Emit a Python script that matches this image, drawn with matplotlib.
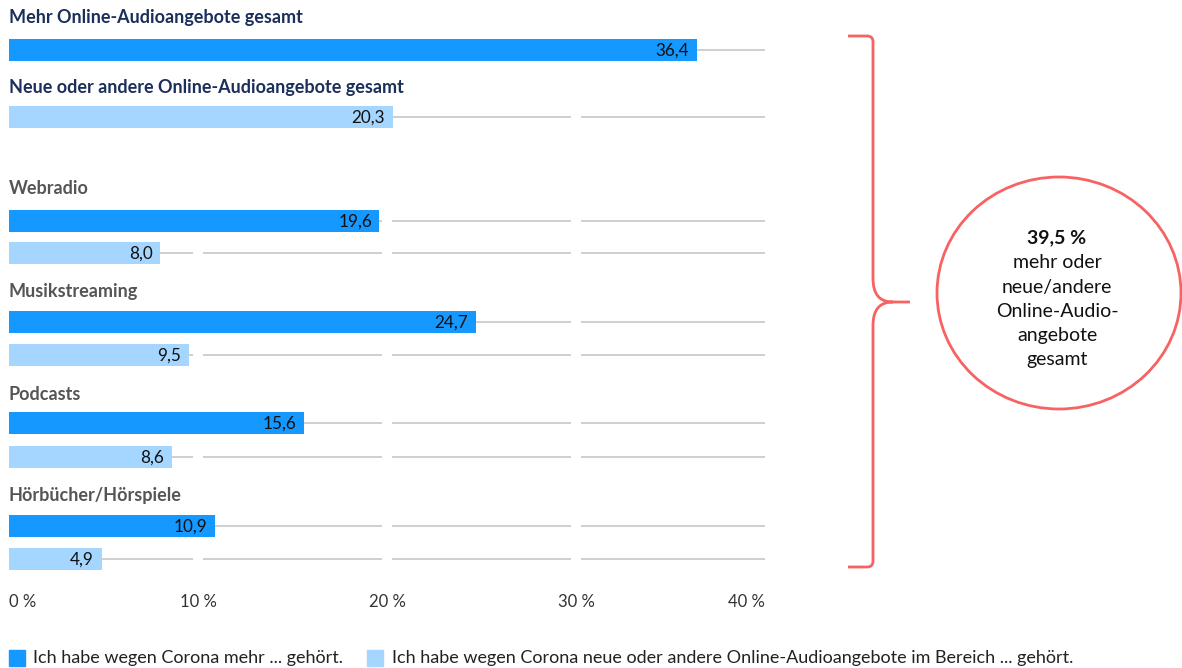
import matplotlib
matplotlib.use("Agg")
import matplotlib.pyplot as plt
from matplotlib.patches import Ellipse, PathPatch, Rectangle
from matplotlib.path import Path

plt.rcParams['font.family'] = ['Lato', 'DejaVu Sans']

# ---- data ----
headers = ["Mehr Online-Audioangebote gesamt",
           "Neue oder andere Online-Audioangebote gesamt",
           "Webradio", "Musikstreaming", "Podcasts", "Hörbücher/Hörspiele"]
total_more = [36.4]
total_new = [20.3]
categories = ["Webradio", "Musikstreaming", "Podcasts", "Hörbücher/Hörspiele"]
more_values = [19.6, 24.7, 15.6, 10.9]
new_values = [8.0, 9.5, 8.6, 4.9]
xticks = [0, 10, 20, 30, 40]
xtick_labels = ["0 %", "10 %", "20 %", "30 %", "40 %"]
legend_labels = ["Ich habe wegen Corona mehr ... gehört.",
                 "Ich habe wegen Corona neue oder andere Online-Audioangebote im Bereich ... gehört."]
summary_value = "39,5 %"
summary_lines = ["mehr oder", "neue/andere", "Online-Audio-", "angebote", "gesamt"]

# ---- style ----
DARK = "#1598FF"
LIGHT = "#A5D6FF"
NAVY = "#1B2F5B"
GRAY = "#555555"
RED = "#F76262"
GRID = "#CCCCCC"

W, H = 1182, 668
fig = plt.figure(figsize=(W / 100, H / 100), dpi=100)

# main axes: x in percent, y in pixel rows
x0_px, x1_px = 9, 765
ax = fig.add_axes([x0_px / W, 0, (x1_px - x0_px) / W, 1])
ax.set_xlim(0, 40)
ax.set_ylim(H, 0)
ax.axis("off")

values = total_more + total_new + [v for pair in zip(more_values, new_values) for v in pair]
colors = [DARK, LIGHT] + [DARK, LIGHT] * len(categories)
bar_y = [50, 117, 221, 253, 322, 355, 423, 457, 526, 559]
bar_h = 22.5
header_y = [17, 88, 188, 292, 395, 495]
header_colors = [NAVY, NAVY, GRAY, GRAY, GRAY, GRAY]

gap = 0.27
for y in bar_y:
    edges = [0] + xticks[1:-1] + [40]
    for i in range(len(edges) - 1):
        a = edges[i] + (gap if i > 0 else 0)
        b = edges[i + 1] - (gap if i + 1 < len(edges) - 1 else 0)
        ax.plot([a, b], [y, y], color=GRID, lw=1.3, zorder=1, solid_capstyle="butt")

ax.barh(bar_y, values, height=bar_h, color=colors, zorder=2)
for y, v in zip(bar_y, values):
    ax.text(v - 0.4, y + 1, f"{v:.1f}".replace(".", ","), ha="right", va="center",
            fontsize=12.3, color="#111111", zorder=3)

for y, t, c in zip(header_y, headers, header_colors):
    ax.text(0, y, t, ha="left", va="center", fontsize=13, fontweight="bold", color=c)

for xt, lab in zip(xticks, xtick_labels):
    ha = "left" if xt == 0 else ("right" if xt == 40 else "center")
    ax.text(xt, 602, lab, ha=ha, va="center", fontsize=12, color="#333333")

# overlay axes in pixel coords
ov = fig.add_axes([0, 0, 1, 1])
ov.set_xlim(0, W)
ov.set_ylim(H, 0)
ov.axis("off")

# legend
ov.add_patch(Rectangle((9, 650), 16, 16, color=DARK))
ov.text(33, 658, legend_labels[0], ha="left", va="center", fontsize=13, color="#222222")
ov.add_patch(Rectangle((367, 650), 16, 16, color=LIGHT))
ov.text(392, 658, legend_labels[1], ha="left", va="center", fontsize=13, color="#222222")

# brace
verts = [(848, 36), (867, 36),
         (871, 36), (873, 38), (873, 42),
         (873, 278),
         (873, 295), (880, 302), (893, 302),
         (910, 302),
         (893, 302),
         (880, 302), (873, 309), (873, 326),
         (873, 561),
         (873, 565), (871, 567), (867, 567),
         (848, 567)]
codes = [Path.MOVETO, Path.LINETO,
         Path.CURVE4, Path.CURVE4, Path.CURVE4,
         Path.LINETO,
         Path.CURVE4, Path.CURVE4, Path.CURVE4,
         Path.LINETO,
         Path.MOVETO,
         Path.CURVE4, Path.CURVE4, Path.CURVE4,
         Path.LINETO,
         Path.CURVE4, Path.CURVE4, Path.CURVE4,
         Path.LINETO]
ov.add_patch(PathPatch(Path(verts, codes), fill=False, edgecolor=RED, lw=2.0,
                       capstyle="butt", joinstyle="round"))

# circle
ov.add_patch(Ellipse((1059, 293), 244, 232, fill=False, edgecolor=RED, lw=2.0))
ov.text(1057, 238, summary_value, ha="center", va="center", fontsize=14,
        fontweight="bold", color="#111111")
for i, line in enumerate(summary_lines):
    ov.text(1057, 263 + i * 24.2, line, ha="center", va="center", fontsize=14, color="#111111")

fig.savefig("out.png", dpi=100)
